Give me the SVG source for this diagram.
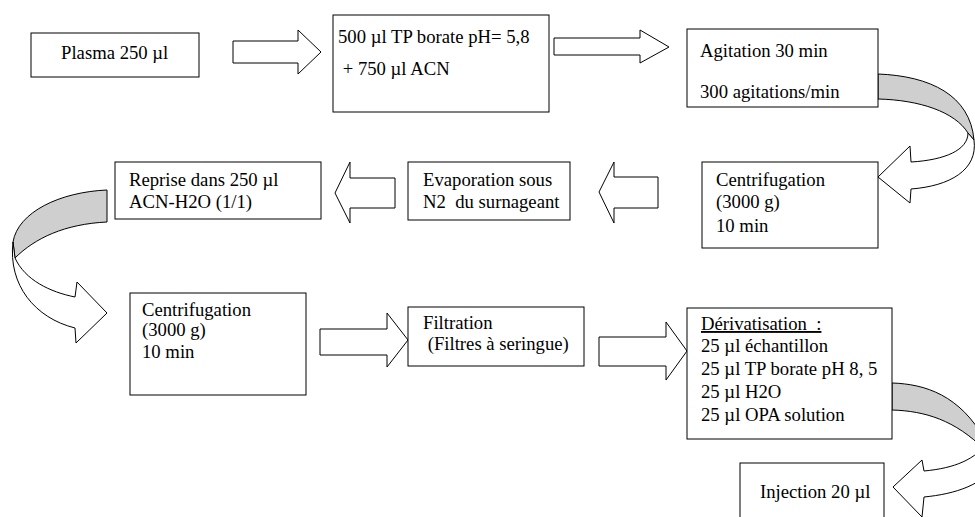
<svg xmlns="http://www.w3.org/2000/svg" width="975" height="517" viewBox="0 0 975 517">
<style>
.box{fill:#fff;stroke:#000;stroke-width:1}
.arr{fill:#fff;stroke:#000;stroke-width:1;stroke-linejoin:miter}
.back{fill:#cfcfcf;stroke:#000;stroke-width:1}
text{font-family:"Liberation Serif","Times New Roman",serif;font-size:18.7px;fill:#000;white-space:pre}
</style>
<rect width="975" height="517" fill="#fff"/>
<g id="connectors">
<path class="arr" d="M233,41 L298,41 L298,30 L321,52 L298,74 L298,63 L233,63 Z"/>
<path class="arr" d="M554,38 L640,38 L640,30 L669,47 L640,63 L640,55 L554,55 Z"/>
<path class="back" d="M878,74 C930,76 970,95 974,140 L968,133 C955,112 920,100 878,99 Z"/>
<path class="arr" d="M968,133 C968,150 945,160 911,162 L910,146 L878,177 L910,203 L911,189 C950,186 978,170 974,140 Z"/>
<path class="arr" d="M658,177 L614,177 L614,162 L599,192 L614,223 L614,208 L658,208 Z"/>
<path class="arr" d="M395,178 L350,178 L350,162 L335,193 L350,223 L350,208 L395,208 Z"/>
<path class="back" d="M107,190 C60,192 18,212 13,242 L15,258 C35,238 65,224 107,222 Z"/>
<path class="arr" d="M13,242 L15,258 C25,280 50,292 75,297 L77,282 L107,313 L76,343 L75,328 C35,318 8,285 13,242 Z"/>
<path class="arr" d="M320,329 L387,329 L387,313 L408,340 L387,367 L387,355 L320,355 Z"/>
<path class="arr" d="M599,337 L666,337 L666,322 L687,351 L666,380 L666,366 L599,366 Z"/>
<path class="back" d="M892,383 C925,384 960,395 985,440 L985,450 C955,420 925,411 892,410 Z"/>
<path class="arr" d="M990,440 C975,460 955,468 924,471 L922,460 L893,487 L922,517 L924,497 C955,494 985,485 1000,460 Z"/>
</g>
<g id="n1"><rect class="box" x="31" y="33" width="168" height="44"/><text x="61" y="59">Plasma 250 µl</text></g>
<g id="n2"><rect class="box" x="333" y="15" width="216" height="97"/><text x="338" y="43">500 µl TP borate pH= 5,8</text><text x="338" y="75"> + 750 µl ACN</text></g>
<g id="n3"><rect class="box" x="687" y="29" width="191" height="78"/><text x="700" y="57">Agitation 30 min</text><text x="700" y="98">300 agitations/min</text></g>
<g id="n4"><rect class="box" x="702" y="162" width="176" height="86"/><text x="716" y="186">Centrifugation</text><text x="716" y="208">(3000 g)</text><text x="716" y="232">10 min</text></g>
<g id="n5"><rect class="box" x="408" y="162" width="162" height="58"/><text x="423" y="186">Evaporation sous</text><text x="423" y="208">N2  du surnageant</text></g>
<g id="n6"><rect class="box" x="115" y="162" width="206" height="57"/><text x="129" y="186">Reprise dans 250 µl</text><text x="129" y="208">ACN-H2O (1/1)</text></g>
<g id="n7"><rect class="box" x="130" y="293" width="176" height="102"/><text x="142" y="316">Centrifugation</text><text x="142" y="336">(3000 g)</text><text x="142" y="358">10 min</text></g>
<g id="n8"><rect class="box" x="408" y="307" width="176" height="59"/><text x="423" y="329">Filtration</text><text x="423" y="350"> (Filtres à seringue)</text></g>
<g id="n9"><rect class="box" x="687" y="308" width="205" height="131"/><text x="701" y="330" text-decoration="underline">Dérivatisation  :</text><text x="701" y="352">25 µl échantillon</text><text x="701" y="375">25 µl TP borate pH 8, 5</text><text x="701" y="398">25 µl H2O</text><text x="701" y="421">25 µl OPA solution</text></g>
<g id="n10"><rect class="box" x="740" y="463" width="144" height="70"/><text x="760" y="498">Injection 20 µl</text></g>
</svg>
